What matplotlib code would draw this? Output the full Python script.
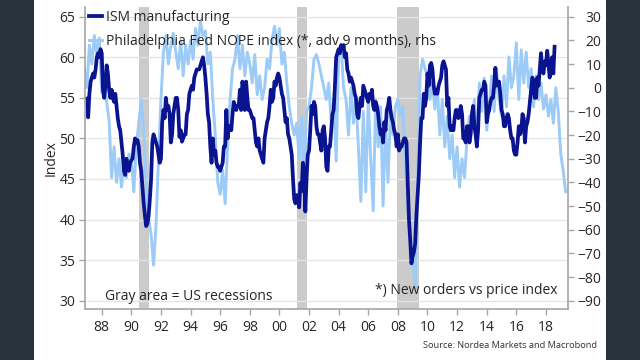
import matplotlib
matplotlib.use('Agg')
import matplotlib.pyplot as plt
import numpy as np
from matplotlib.patches import Rectangle
from matplotlib.lines import Line2D

plt.rcParams['font.family'] = ['Open Sans', 'DejaVu Sans']

# ---------------- data ----------------
# ISM manufacturing, monthly from Jan 1987
ism_start = 1987
ism_values = [
    54.9, 52.6, 55.5, 57.0, 57.5, 58.0, 57.5, 58.5, 60.0, 60.5, 60.0, 61.0,  # 1987
    60.5, 56.0, 55.0, 56.5, 59.0, 58.0, 56.0, 55.0, 56.0, 55.0, 54.5, 55.5,  # 1988
    54.0, 52.5, 51.5, 51.0, 49.5, 48.0, 46.0, 45.5, 47.5, 46.5, 46.0, 47.0,  # 1989
    47.3, 47.5, 49.0, 50.0, 49.5, 49.8, 49.0, 47.0, 46.0, 44.0, 42.0, 40.5,  # 1990
    39.2, 39.5, 40.5, 42.5, 45.0, 49.5, 50.5, 50.0, 49.5, 49.0, 48.0, 47.0,  # 1991
    47.5, 52.0, 53.5, 52.5, 55.0, 53.5, 54.0, 53.0, 49.5, 50.5, 53.0, 54.0,  # 1992
    55.0, 55.0, 53.5, 50.2, 51.0, 49.6, 50.0, 50.5, 50.5, 53.0, 53.5, 55.5,  # 1993
    56.0, 56.5, 56.0, 57.5, 58.0, 58.5, 58.5, 58.5, 59.0, 59.5, 60.0, 59.0,  # 1994
    57.5, 55.5, 53.0, 52.0, 49.0, 47.0, 50.0, 48.0, 48.5, 47.0, 46.5, 46.5,  # 1995
    46.0, 46.5, 47.0, 49.0, 49.0, 53.5, 50.0, 51.5, 51.5, 51.0, 53.0, 54.5,  # 1996
    54.0, 53.5, 54.0, 54.0, 56.0, 53.5, 57.0, 56.0, 53.5, 57.0, 55.0, 53.5,  # 1997
    53.5, 53.0, 52.5, 52.5, 51.0, 49.5, 49.0, 50.0, 48.5, 48.0, 47.5, 47.0,  # 1998
    50.0, 51.0, 52.0, 52.5, 54.0, 56.0, 54.5, 55.0, 57.0, 56.5, 57.5, 58.0,  # 1999
    57.5, 56.5, 55.5, 55.0, 53.5, 52.0, 52.5, 50.5, 50.0, 49.0, 48.0, 45.0,  # 2000
    42.5, 42.0, 43.0, 43.0, 41.5, 44.5, 43.5, 47.0, 46.0, 41.0, 45.0, 48.0,  # 2001
    48.5, 51.0, 54.0, 53.0, 54.5, 54.0, 51.5, 50.5, 50.5, 49.5, 48.5, 51.0,  # 2002
    51.5, 50.0, 46.5, 46.0, 49.0, 49.0, 51.0, 53.0, 53.5, 56.5, 60.0, 60.5,  # 2003
    61.0, 60.5, 61.5, 61.0, 61.5, 60.0, 60.5, 58.5, 58.0, 57.0, 57.5, 57.0,  # 2004
    56.5, 55.5, 55.0, 53.0, 52.5, 54.0, 55.0, 54.0, 56.5, 56.0, 55.5, 55.0,  # 2005
    54.5, 55.5, 55.0, 56.0, 54.0, 53.5, 54.5, 54.0, 53.0, 51.5, 50.5, 51.0,  # 2006
    49.5, 52.0, 51.0, 53.5, 54.0, 55.0, 53.5, 52.5, 52.0, 51.0, 50.5, 49.0,  # 2007
    50.5, 48.5, 49.0, 49.0, 49.5, 50.0, 50.0, 49.5, 44.5, 40.0, 37.5, 34.6,  # 2008
    35.5, 36.0, 37.0, 40.5, 43.0, 45.5, 49.5, 52.5, 52.5, 55.5, 54.0, 55.0,  # 2009
    58.0, 56.5, 59.0, 59.3, 58.5, 56.5, 55.5, 56.0, 55.5, 56.5, 57.0, 57.5,  # 2010
    59.0, 59.5, 59.0, 58.5, 54.0, 55.0, 51.5, 51.0, 51.5, 51.0, 52.5, 53.5,  # 2011
    53.5, 52.5, 53.0, 54.0, 53.0, 50.0, 50.0, 49.5, 51.5, 51.5, 49.5, 50.5,  # 2012
    53.0, 54.0, 51.5, 50.5, 49.0, 51.0, 55.0, 55.5, 56.0, 56.0, 57.0, 56.5,  # 2013
    52.0, 53.0, 53.5, 54.5, 55.0, 55.0, 56.5, 58.7, 56.5, 57.0, 57.0, 55.5,  # 2014
    53.5, 53.0, 51.5, 51.5, 52.5, 53.0, 52.5, 51.0, 50.0, 50.0, 48.5, 48.0,  # 2015
    48.0, 49.5, 51.5, 50.5, 51.0, 53.0, 52.5, 49.5, 51.5, 52.0, 53.0, 54.5,  # 2016
    56.0, 57.5, 57.0, 55.0, 55.0, 57.5, 56.5, 58.5, 60.5, 58.5, 58.0, 59.5,  # 2017
    59.0, 60.8, 59.3, 57.5, 58.5, 60.0, 58.0, 61.3,                          # 2018
]

# Philadelphia Fed NOPE index (advanced 9 months), every 2nd month from Nov 1986
phil_start = 1986 + 10 / 12
phil_values = [
    8,
    0, 18, 10, 22, 14, 21,        # 1987
    -2, 5, -6, -14, -38, -25,     # 1988
    -40, -30, -42, -32, -38, -28, # 1989
    -30, -44, -25, -15, -5, -18,  # 1990
    -40, -55, -62, -75, -58, -30, # 1991
    -5, 15, 22, 10, 18, 23,       # 1992
    15, 8, 20, 5, 18, 10,         # 1993
    20, 12, 25, 18, 28, 22,       # 1994
    24, 10, 15, -5, -20, -40,     # 1995
    -45, -35, -49, -25, -5, 8,    # 1996
    12, 22, 8, 18, 5, 15,         # 1997
    10, 2, 14, -3, 5, -5,         # 1998
    0, 12, 8, 20, 26, 18,         # 1999
    25, 10, 15, 2, -8, -15,       # 2000
    -20, -15, -30, -12, -35, -10, # 2001
    -8, 0, 12, 14, 10, 5,         # 2002
    0, -5, 2, -15, -5, -31,       # 2003
    15, 18, 0, -5, -20, 0,        # 2004
    -15, -5, -25, -48, -10, -44,  # 2005
    -5, -30, -52, -5, -25, -8,    # 2006
    -50, -15, -40, -10, -20, -8,  # 2007
    -5, -12, -8, -30, -50, -62,   # 2008
    -70, -85, -40, 5, 12, 8,      # 2009
    5, -5, 2, -9, 0, -20,         # 2010
    -5, -25, -12, -30, -20, -38,  # 2011
    -25, -42, -30, -38, -22, -12, # 2012
    -15, -5, -25, 2, -10, 4,      # 2013
    -18, -8, 5, -10, 8, -5,       # 2014
    -12, 5, -8, 13, 0, 5,         # 2015
    19, -5, 16, 2, 15, 0,         # 2016
    8, -8, 5, -5, 2, -9,          # 2017
    -3, -12, -5, -15, 0, -10,     # 2018
    -28, -35, -44,                # 2019
]

rec_start = [1990.5, 2001.17, 2007.92]
rec_end = [1991.17, 2001.87, 2009.45]

xtick_years = list(range(1988, 2019, 2))
xtick_labels = [f"{y % 100:02d}" for y in xtick_years]
left_ticks = [30, 35, 40, 45, 50, 55, 60, 65]
right_ticks = [-90, -80, -70, -60, -50, -40, -30, -20, -10, 0, 10, 20, 30]

labels = ["ISM manufacturing", "Philadelphia Fed NOPE index (*, adv 9 months), rhs"]

# ---------------- style ----------------
DARK = '#0b1490'
LIGHT = '#9ccbf7'
GRAY_SPINE = '#a6a6a6'
TXT = '#262626'

fig = plt.figure(figsize=(6.4, 3.6), dpi=100)
fig.patch.set_facecolor('#28333e')
fig.patches.append(Rectangle((34.3 / 640, 0), (605.7 - 34.3) / 640, 1,
                             transform=fig.transFigure, facecolor='white',
                             edgecolor='none', zorder=-10))

rect = [85 / 640, 1 - 309 / 360, (568 - 85) / 640, (309 - 6.7) / 360]
axbg = fig.add_axes(rect)
ax1 = fig.add_axes(rect, sharex=axbg, sharey=axbg)
ax2 = ax1.twinx()
axbg.set_zorder(0)
ax2.set_zorder(1)
ax1.set_zorder(2)
ax1.patch.set_visible(False)
ax2.patch.set_visible(False)
axbg.axis('off')

ylo, yhi = 28.98, 66.23
xlo, xhi = 1986.87, 2019.49


def to_right(v):
    return (v - 65) * 120 / 35 + 30


ax1.set_xlim(xlo, xhi)
ax1.set_ylim(ylo, yhi)
ax2.set_ylim(to_right(ylo), to_right(yhi))

# background: recessions and grid
for s, e in zip(rec_start, rec_end):
    axbg.axvspan(s, e, color='#cbcbcb', lw=0, zorder=0)
for t in left_ticks:
    axbg.axhline(t, color='#e4e4e4', lw=0.9, zorder=1)

ism_x = ism_start + np.arange(len(ism_values)) / 12
phil_x = phil_start + np.arange(len(phil_values)) * 2 / 12

ax2.plot(phil_x, phil_values, color=LIGHT, lw=2.1, solid_joinstyle='round')
ax1.plot(ism_x, ism_values, color=DARK, lw=2.7, solid_joinstyle='round')

# axes styling
for ax in (ax1, ax2):
    for sp in ax.spines.values():
        sp.set_color(GRAY_SPINE)
        sp.set_linewidth(1.2)
    ax.spines['top'].set_visible(False)
ax2.spines['left'].set_visible(False)
ax2.spines['bottom'].set_visible(False)
ax1.spines['right'].set_visible(False)

ax1.set_xticks(xtick_years)
ax1.set_xticklabels(xtick_labels)
ax1.set_yticks(left_ticks)
ax2.set_yticks(right_ticks)
ax1.tick_params(axis='both', direction='out', length=4, width=1, color=GRAY_SPINE,
                labelsize=10, labelcolor=TXT)
ax1.tick_params(axis='y', pad=3)
ax1.tick_params(axis='x', pad=4)
ax2.tick_params(axis='y', direction='out', length=4, width=1, color=GRAY_SPINE,
                labelsize=10, labelcolor=TXT, pad=20)
plt.setp(ax2.get_yticklabels(), ha='right')

ax1.set_ylabel('Index', fontsize=10, color=TXT)
ax1.yaxis.set_label_coords(-0.055, 0.5)

handles = [Line2D([], [], color=DARK, lw=2.7), Line2D([], [], color=LIGHT, lw=2.1)]
ax1.legend(handles, labels, loc='upper left', bbox_to_anchor=(0.008, 0.988),
           frameon=False, fontsize=10, handlelength=0.95, handletextpad=0.25,
           borderpad=0, borderaxespad=0, labelspacing=0.6, labelcolor=TXT)

ax1.text(0.041, 0.043, 'Gray area = US recessions', transform=ax1.transAxes,
         fontsize=10, color=TXT, ha='left', va='center')
ax1.text(0.979, 0.060, '*) New orders vs price index', transform=ax1.transAxes,
         fontsize=10, color=TXT, ha='right', va='center')

fig.text(597 / 640, 1 - 345 / 360, 'Source: Nordea Markets and Macrobond',
         fontsize=6.7, color='#333333', ha='right', va='center')

fig.savefig('out.png', dpi=100, facecolor=fig.get_facecolor())
